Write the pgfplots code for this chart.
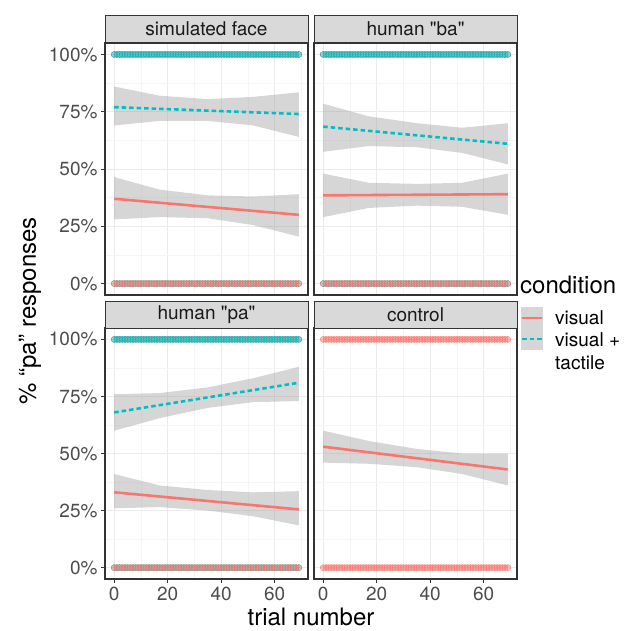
\documentclass[border=0pt]{standalone}
\usepackage{pgfplots}
\pgfplotsset{compat=1.18}
\usepackage{pgfplotstable}
\usepackage{fontspec}
\setmainfont{TeX Gyre Heros}[Ligatures=TeXOff]

\definecolor{cvis}{HTML}{F8766D}
\definecolor{cvt}{HTML}{00BFC4}
\definecolor{stripgray}{HTML}{D9D9D9}
\definecolor{tickgray}{HTML}{4D4D4D}
\definecolor{bordergray}{HTML}{333333}

\newcommand\tickfont{\fontsize{19}{19}\selectfont}
\newcommand\titlefont{\fontsize{24}{24}\selectfont}

% trial numbers, with the two possible responses (0 = not pa, 1 = pa)
\pgfplotstableread{
t lo hi
0 0 1
1 0 1
2 0 1
3 0 1
4 0 1
5 0 1
6 0 1
7 0 1
8 0 1
9 0 1
10 0 1
11 0 1
12 0 1
13 0 1
14 0 1
15 0 1
16 0 1
17 0 1
18 0 1
19 0 1
20 0 1
21 0 1
22 0 1
23 0 1
24 0 1
25 0 1
26 0 1
27 0 1
28 0 1
29 0 1
30 0 1
31 0 1
32 0 1
33 0 1
34 0 1
35 0 1
36 0 1
37 0 1
38 0 1
39 0 1
40 0 1
41 0 1
42 0 1
43 0 1
44 0 1
45 0 1
46 0 1
47 0 1
48 0 1
49 0 1
50 0 1
51 0 1
52 0 1
53 0 1
54 0 1
55 0 1
56 0 1
57 0 1
58 0 1
59 0 1
60 0 1
61 0 1
62 0 1
63 0 1
64 0 1
65 0 1
66 0 1
67 0 1
68 0 1
69 0 1
}\trials

\tikzset{
  vis/.style={cvis, line width=2.6pt},
  vt/.style={cvt, line width=2.6pt, dash pattern=on 4.5pt off 3pt},
}

\pgfplotsset{
  panel/.style={
    scale only axis, width=203pt, height=252pt, anchor=north west,
    xmin=-3.45, xmax=72.45, ymin=-0.05, ymax=1.05,
    axis line style={draw=bordergray, line width=1.4pt},
    xtick={0,20,40,60}, minor xtick={10,30,50,70},
    ytick={0,0.25,0.5,0.75,1}, minor ytick={0.125,0.375,0.625,0.875},
    grid=both,
    major grid style={draw=black!8, line width=0.9pt},
    minor grid style={draw=black!4, line width=0.5pt},
    tick align=outside, xtick pos=bottom, ytick pos=left,
    major tick length=4pt, minor tick length=0pt,
    tick style={draw=bordergray, line width=0.9pt},
    ticklabel style={font=\tickfont, text=tickgray},
    xticklabels={0,20,40,60},
    yticklabels={0\%,25\%,50\%,75\%,100\%},
  },
  nox/.style={xmajorticks=false, xticklabels={}},
  noy/.style={ymajorticks=false, yticklabels={}},
  band/.style={fill=black!40, fill opacity=0.4, draw=none, forget plot},
  pts/.style 2 args={only marks, mark=*, mark size=3pt, forget plot, color=#1,
    mark options={draw=none, fill=#1, fill opacity=#2}},
}

\begin{document}
\begin{tikzpicture}
\useasboundingbox (0,0) rectangle (636pt,-630pt);

% ---------- simulated face ----------
\begin{axis}[panel, nox, at={(105pt,-43pt)}]
  \addplot[pts={cvis}{0.3}] table[x=t,y=hi]{\trials};
  \addplot[pts={cvt}{0.35}] table[x=t,y=hi]{\trials};
  \addplot[pts={cvt}{0.25}] table[x=t,y=lo]{\trials};
  \addplot[pts={cvis}{0.35}] table[x=t,y=lo]{\trials};
  \addplot[band] coordinates {(0,0.86) (17,0.82) (35,0.805) (52,0.815) (69,0.835)
    (69,0.64) (52,0.69) (35,0.71) (17,0.71) (0,0.69)};
  \addplot[band] coordinates {(0,0.465) (17,0.41) (35,0.385) (52,0.38) (69,0.39)
    (69,0.205) (52,0.255) (35,0.285) (17,0.29) (0,0.28)};
  \addplot[vis] coordinates {(0,0.37) (69,0.30)};
  \addplot[vt] coordinates {(0,0.77) (69,0.74)};
\end{axis}

% ---------- human "ba" ----------
\begin{axis}[panel, nox, noy, at={(314pt,-43pt)}]
  \addplot[pts={cvis}{0.3}] table[x=t,y=hi]{\trials};
  \addplot[pts={cvt}{0.35}] table[x=t,y=hi]{\trials};
  \addplot[pts={cvt}{0.25}] table[x=t,y=lo]{\trials};
  \addplot[pts={cvis}{0.35}] table[x=t,y=lo]{\trials};
  \addplot[band] coordinates {(0,0.785) (17,0.73) (35,0.70) (52,0.68) (69,0.70)
    (69,0.52) (52,0.57) (35,0.595) (17,0.60) (0,0.575)};
  \addplot[band] coordinates {(0,0.48) (17,0.44) (35,0.435) (52,0.44) (69,0.48)
    (69,0.30) (52,0.335) (35,0.34) (17,0.33) (0,0.29)};
  \addplot[vis] coordinates {(0,0.385) (69,0.39)};
  \addplot[vt] coordinates {(0,0.685) (69,0.61)};
\end{axis}

% ---------- human "pa" ----------
\begin{axis}[panel, height=251pt, at={(105pt,-328pt)}]
  \addplot[pts={cvis}{0.25}] table[x=t,y=hi]{\trials};
  \addplot[pts={cvt}{0.4}] table[x=t,y=hi]{\trials};
  \addplot[pts={cvt}{0.3}] table[x=t,y=lo]{\trials};
  \addplot[pts={cvis}{0.35}] table[x=t,y=lo]{\trials};
  \addplot[band] coordinates {(0,0.76) (17,0.765) (35,0.79) (52,0.83) (69,0.88)
    (69,0.73) (52,0.725) (35,0.70) (17,0.655) (0,0.60)};
  \addplot[band] coordinates {(0,0.41) (17,0.36) (35,0.34) (52,0.33) (69,0.335)
    (69,0.185) (52,0.225) (35,0.25) (17,0.265) (0,0.26)};
  \addplot[vis] coordinates {(0,0.33) (69,0.255)};
  \addplot[vt] coordinates {(0,0.68) (69,0.81)};
\end{axis}

% ---------- control ----------
\begin{axis}[panel, noy, height=251pt, at={(314pt,-328pt)}]
  \addplot[pts={cvis}{0.45}] table[x=t,y=hi]{\trials};
  \addplot[pts={cvis}{0.45}] table[x=t,y=lo]{\trials};
  \addplot[band] coordinates {(0,0.60) (17,0.555) (35,0.52) (52,0.50) (69,0.50)
    (69,0.36) (52,0.41) (35,0.44) (17,0.455) (0,0.46)};
  \addplot[vis] coordinates {(0,0.53) (69,0.43)};
\end{axis}

% strips
\foreach \x/\y/\lab in {105/15/{simulated face}, 314/15/{human "ba"},
                        105/301/{human "pa"}, 314/301/{control}} {
  \draw[fill=stripgray, draw=bordergray, line width=0.9pt]
    (\x pt,-\y pt) rectangle ++(203pt,-27pt);
  \node[text=black!90, font=\tickfont] at (\x pt+101.5pt,-\y pt-13.5pt) {\lab};
}

% axis titles
\node[rotate=90, font=\titlefont] at (30pt,-311pt) {\% “pa” responses};
\node[font=\titlefont] at (311pt,-617pt) {trial number};

% legend
\node[anchor=west, font=\titlefont, inner sep=0pt] at (520pt,-285pt) {condition};
\fill[black!40, fill opacity=0.4] (521pt,-307pt) rectangle (543pt,-350pt);
\draw[vis] (522pt,-318pt) -- (542pt,-318pt);
\draw[vt] (522pt,-339pt) -- (542pt,-339pt);
\node[anchor=west, font=\tickfont, inner sep=0pt] at (555pt,-318pt) {visual};
\node[anchor=west, font=\tickfont, inner sep=0pt] at (555pt,-340pt) {visual +};
\node[anchor=west, font=\tickfont, inner sep=0pt] at (555pt,-363pt) {tactile};
\end{tikzpicture}
\end{document}
